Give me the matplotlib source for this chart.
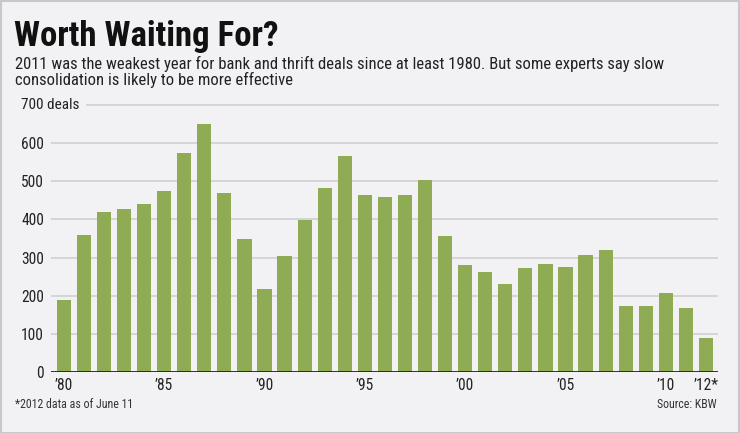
import matplotlib
matplotlib.use("Agg")
import matplotlib.pyplot as plt

FAM = ['Roboto Condensed', 'Archivo Narrow', 'Liberation Sans', 'DejaVu Sans']
plt.rcParams['font.family'] = FAM

years = list(range(1980, 2013))
deals = [189, 359, 420, 427, 441, 475, 573, 649, 468, 350,
         217, 305, 399, 481, 567, 463, 458, 463, 504, 357,
         280, 262, 232, 272, 282, 275, 306, 321, 173, 174,
         208, 169, 89]
xtick_years = [1980, 1985, 1990, 1995, 2000, 2005, 2010, 2012]
xtick_labels = ["’80", "’85", "’90", "’95", "’00", "’05", "’10", "’12*"]
ytick_vals = [0, 100, 200, 300, 400, 500, 600]

W, H = 740, 433
BG = "#f2f2f4"
fig = plt.figure(figsize=(W / 100, H / 100), dpi=100, facecolor=BG)

# border
fig.patches.append(plt.Rectangle((0.5 / W, 0.5 / H), 1 - 1.5 / W, 1 - 1.5 / H,
                                 transform=fig.transFigure, fill=False,
                                 edgecolor="#c8c8c8", lw=1.5))

ax = fig.add_axes([51 / W, 1 - 372.3 / H, (718 - 51) / W, (372.3 - 104.7) / H])
ax.set_facecolor(BG)
ax.bar(years, deals, width=0.71, color="#8fac55", zorder=3)
ax.set_xlim(1979.36, 2012.6)
ax.set_ylim(0, 700)

for v in ytick_vals[1:]:
    ax.axhline(v, color="#d2d2d4", lw=1.3, zorder=1)
ax.axhline(700, xmin=(87 - 51) / (718 - 51), color="#d2d2d4", lw=1.3, zorder=1,
           clip_on=False)
ax.axhline(0, color="#222222", lw=1.3, zorder=4)

for s in ax.spines.values():
    s.set_visible(False)
ax.set_yticks(ytick_vals)
ax.set_yticklabels([str(v) for v in ytick_vals])
ax.set_xticks(xtick_years)
ax.set_xticklabels(xtick_labels)
ax.tick_params(axis='both', length=0, labelsize=11.2, colors="#222222")
ax.tick_params(axis='y', pad=5)
ax.tick_params(axis='x', pad=4)

fig.text(21 / W, 1 - 105 / H, "700 deals", fontsize=11, color="#222222",
         ha="left", va="center")

fig.text(14 / W, 1 - 20 / H, "Worth Waiting For?", fontsize=25, fontweight="bold",
         color="#111111", ha="left", va="top")
fig.text(15 / W, 1 - 56 / H,
         "2011 was the weakest year for bank and thrift deals since at least 1980. But some experts say slow\nconsolidation is likely to be more effective",
         fontsize=12, color="#222222", ha="left", va="top", linespacing=1.0)

fig.text(15 / W, 1 - 405 / H, "*2012 data as of June 11", fontsize=8.6,
         color="#333333", ha="left", va="center")
fig.text(717 / W, 1 - 405 / H, "Source: KBW", fontsize=8.6,
         color="#333333", ha="right", va="center")

fig.savefig("out.png", dpi=100, facecolor=BG)
